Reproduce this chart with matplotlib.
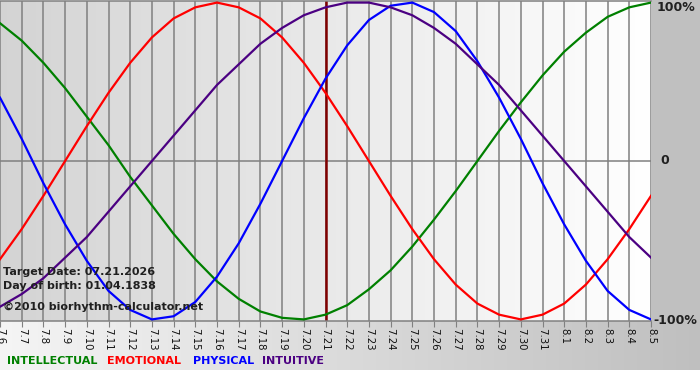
import matplotlib.pyplot as plt
from matplotlib.patches import Rectangle
import numpy as np

days = ['7.6', '7.7', '7.8', '7.9', '7.10', '7.11', '7.12', '7.13', '7.14', '7.15',
        '7.16', '7.17', '7.18', '7.19', '7.20', '7.21', '7.22', '7.23', '7.24', '7.25',
        '7.26', '7.27', '7.28', '7.29', '7.30', '7.31', '8.1', '8.2', '8.3', '8.4', '8.5']
target_day = '7.21'

intellectual = [0.87, 0.76, 0.62, 0.46, 0.28, 0.10, -0.10, -0.28, -0.46, -0.62, -0.76,
                -0.87, -0.95, -0.99, -1.00, -0.97, -0.91, -0.81, -0.69, -0.54, -0.37,
                -0.19, 0.00, 0.19, 0.37, 0.54, 0.69, 0.81, 0.91, 0.97, 1.00]
emotional = [-0.62, -0.43, -0.22, 0.00, 0.22, 0.43, 0.62, 0.78, 0.90, 0.97, 1.00,
             0.97, 0.90, 0.78, 0.62, 0.43, 0.22, 0.00, -0.22, -0.43, -0.62, -0.78,
             -0.90, -0.97, -1.00, -0.97, -0.90, -0.78, -0.62, -0.43, -0.22]
physical = [0.40, 0.14, -0.14, -0.40, -0.63, -0.82, -0.94, -1.00, -0.98, -0.89, -0.73,
            -0.52, -0.27, 0.00, 0.27, 0.52, 0.73, 0.89, 0.98, 1.00, 0.94, 0.82, 0.63,
            0.40, 0.14, -0.14, -0.40, -0.63, -0.82, -0.94, -1.00]
intuitive = [-0.92, -0.84, -0.74, -0.61, -0.48, -0.32, -0.16, 0.00, 0.16, 0.32, 0.48,
             0.61, 0.74, 0.84, 0.92, 0.97, 1.00, 1.00, 0.97, 0.92, 0.84, 0.74, 0.61,
             0.48, 0.32, 0.16, 0.00, -0.16, -0.32, -0.48, -0.61]

series = [('INTELLECTUAL', intellectual, '#008000'),
          ('EMOTIONAL', emotional, '#ff0000'),
          ('PHYSICAL', physical, '#0000ff'),
          ('INTUITIVE', intuitive, '#4b0082')]

W, H = 700, 380
fig = plt.figure(figsize=(W / 100, H / 100), dpi=100)
fig.patch.set_facecolor('white')

# background panels in pixel coords
bg = fig.add_axes([0, 0, 1, 1], zorder=-1)
bg.axis('off')
grad = np.linspace(0.96, 0.75, 256)
strip = np.dstack([np.tile(grad, (2, 1))] * 3)
bg.imshow(strip, extent=[0, W, 370, 321], aspect='auto', interpolation='bilinear')
bg.add_patch(Rectangle((651, 0), W - 651, 322, color='#c0c0c0', lw=0))
bg.set_xlim(0, W)
bg.set_ylim(H, 0)

ax = fig.add_axes([0, 59 / H, 651 / W, 320 / H])
x = np.arange(len(days))
ax.set_xlim(0, len(days) - 1)
ax.set_ylim(-1.01, 1.01)

pgrad = np.linspace(0.83, 1.0, 256)
pimg = np.dstack([np.tile(pgrad, (2, 1))] * 3)
ax.imshow(pimg, extent=[0, len(days) - 1, -1.01, 1.01], aspect='auto',
          interpolation='bilinear', zorder=0)

for xi in x:
    ax.axvline(xi, color='#808080', lw=1.1, zorder=1)
ax.axhline(0, color='#808080', lw=1.1, zorder=1)
ax.axvline(days.index(target_day), color='#800000', lw=1.8, zorder=2)

for name, vals, col in series:
    ax.plot(x, vals, color=col, lw=1.6, zorder=3, solid_joinstyle='round')

for s in ['left', 'right']:
    ax.spines[s].set_visible(False)
for s in ['top', 'bottom']:
    ax.spines[s].set_color('#808080')
    ax.spines[s].set_linewidth(1.1)

ax.set_xticks(x)
ax.set_xticklabels(days, rotation=270, fontsize=7.3, color='#101010')
ax.tick_params(axis='x', length=4, color='#808080', pad=1)
ax.set_yticks([])

ax.text(1.008, 1.0, '100%', transform=ax.transAxes, ha='left', va='top',
        fontsize=9, fontweight='bold', color='#202020', clip_on=False)
ax.text(1.014, 0.5, '0', transform=ax.transAxes, ha='left', va='center',
        fontsize=9, fontweight='bold', color='#202020', clip_on=False)
ax.text(1.004, 0.0, '-100%', transform=ax.transAxes, ha='left', va='center',
        fontsize=9, fontweight='bold', color='#202020', clip_on=False)

info = [('Target Date: 07.21.2026', 0.153), ('Day of birth: 01.04.1838', 0.109),
        ('\u00a92010 biorhythm-calculator.net', 0.044)]
for txt, yy in info:
    ax.text(0.004, yy, txt, transform=ax.transAxes, ha='left', va='center',
            fontsize=8, fontweight='bold', color='#202020', zorder=4)

legend_x = [7, 107, 193, 262]
for (name, vals, col), lx in zip(series, legend_x):
    fig.text(lx / W, 1 - 361 / H, name, ha='left', va='center', fontsize=8,
             fontweight='bold', color=col)

fig.savefig('out.png', dpi=100)
